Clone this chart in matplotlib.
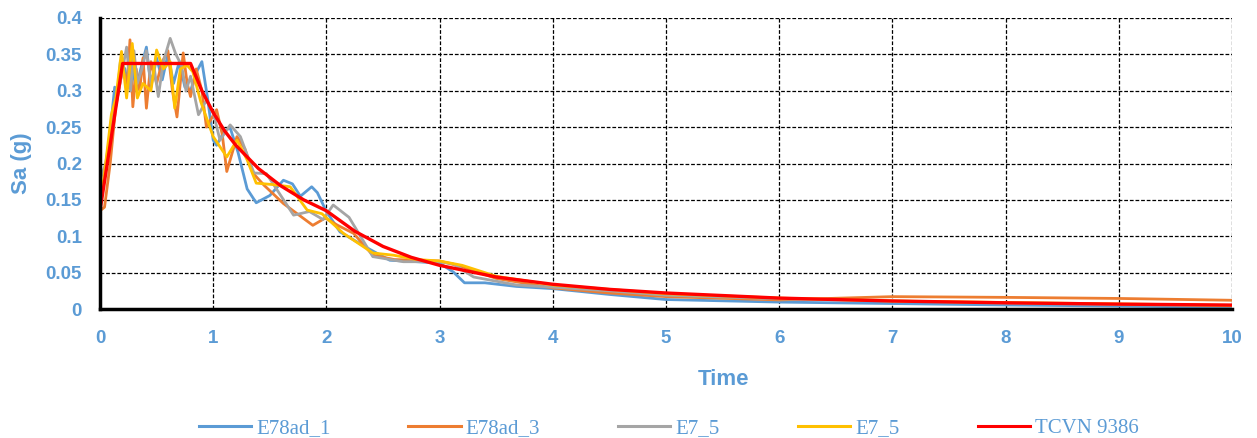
import numpy as np
import matplotlib
matplotlib.use("Agg")
import matplotlib.pyplot as plt

# Spectra (period T in s, Sa in g)
t_e1 = [0, 0.05, 0.1, 0.13, 0.15, 0.18, 0.22, 0.25, 0.28, 0.32,
        0.36, 0.41, 0.45, 0.5, 0.55, 0.6, 0.65, 0.7, 0.75, 0.8,
        0.85, 0.9, 0.95, 1.0, 1.03, 1.1, 1.15, 1.22, 1.3, 1.38,
        1.5, 1.62, 1.7, 1.77, 1.87, 1.92, 2.0, 2.12, 2.36, 2.56,
        2.8, 3.0, 3.12, 3.22, 3.4, 3.68, 4.0, 4.5, 5.0, 6.0,
        7.0, 8.0, 9.0, 10.0]
sa_e1 = [0.14, 0.19, 0.26, 0.305, 0.29, 0.34, 0.33, 0.305, 0.34, 0.30,
         0.33, 0.36, 0.305, 0.345, 0.315, 0.35, 0.31, 0.34, 0.305, 0.30,
         0.325, 0.34, 0.29, 0.232, 0.225, 0.245, 0.249, 0.215, 0.165, 0.146,
         0.156, 0.177, 0.172, 0.155, 0.168, 0.16, 0.134, 0.106, 0.084, 0.067,
         0.065, 0.063, 0.051, 0.036, 0.036, 0.031, 0.028, 0.02, 0.013, 0.0095,
         0.0075, 0.0055, 0.004, 0.0023]

t_e3 = [0, 0.04, 0.09, 0.14, 0.2, 0.24, 0.265, 0.29, 0.32, 0.35,
        0.38, 0.41, 0.45, 0.5, 0.55, 0.6, 0.64, 0.68, 0.735, 0.77,
        0.8, 0.85, 0.9, 0.94, 1.03, 1.08, 1.12, 1.21, 1.28, 1.35,
        1.45, 1.62, 1.75, 1.88, 1.99, 2.1, 2.24, 2.41, 2.6, 2.8,
        3.0, 3.2, 3.5, 4.0, 4.5, 5.0, 6.0, 7.0, 8.0, 9.0,
        10.0]
sa_e3 = [0.135, 0.14, 0.2, 0.28, 0.33, 0.31, 0.37, 0.278, 0.33, 0.3,
         0.345, 0.276, 0.34, 0.31, 0.34, 0.355, 0.3, 0.264, 0.352, 0.31,
         0.292, 0.33, 0.3, 0.25, 0.274, 0.24, 0.189, 0.237, 0.22, 0.187,
         0.17, 0.145, 0.13, 0.115, 0.125, 0.115, 0.104, 0.074, 0.068, 0.067,
         0.066, 0.058, 0.042, 0.029, 0.022, 0.017, 0.0125, 0.017, 0.016, 0.0145,
         0.012]

t_e75a = [0, 0.05, 0.1, 0.15, 0.2, 0.235, 0.27, 0.3, 0.33, 0.37,
          0.41, 0.45, 0.48, 0.515, 0.56, 0.62, 0.67, 0.72, 0.76, 0.8,
          0.87, 0.94, 1.0, 1.06, 1.15, 1.24, 1.36, 1.47, 1.58, 1.71,
          1.85, 1.97, 2.06, 2.2, 2.41, 2.68, 3.0, 3.12, 3.3, 3.68,
          4.0, 4.5, 5.0, 6.0, 7.0, 8.0, 9.0, 10.0]
sa_e75a = [0.177, 0.2, 0.25, 0.287, 0.33, 0.36, 0.30, 0.355, 0.31, 0.33,
           0.355, 0.31, 0.33, 0.292, 0.34, 0.372, 0.35, 0.335, 0.3, 0.32,
           0.267, 0.287, 0.27, 0.232, 0.253, 0.237, 0.187, 0.186, 0.16, 0.129,
           0.134, 0.123, 0.143, 0.126, 0.072, 0.065, 0.065, 0.062, 0.044, 0.033,
           0.03, 0.025, 0.019, 0.014, 0.011, 0.008, 0.006, 0.004]

t_e75b = [0, 0.05, 0.1, 0.14, 0.19, 0.235, 0.285, 0.33, 0.38, 0.45,
          0.5, 0.56, 0.62, 0.66, 0.71, 0.77, 0.82, 0.89, 1.0, 1.12,
          1.21, 1.3, 1.38, 1.53, 1.68, 1.83, 1.96, 2.15, 2.41, 2.59,
          2.8, 3.0, 3.2, 3.5, 4.0, 4.5, 5.0, 6.0, 7.0, 8.0,
          9.0, 10.0]
sa_e75b = [0.14, 0.2, 0.267, 0.29, 0.354, 0.29, 0.365, 0.29, 0.31, 0.3,
           0.356, 0.33, 0.34, 0.276, 0.33, 0.335, 0.326, 0.285, 0.237, 0.209,
           0.232, 0.205, 0.173, 0.171, 0.168, 0.136, 0.131, 0.104, 0.077, 0.074,
           0.068, 0.066, 0.06, 0.045, 0.033, 0.027, 0.021, 0.015, 0.011, 0.009,
           0.007, 0.005]

t_tcvn = [0, 0.2, 0.8, 0.9, 1.0, 1.1, 1.2, 1.4, 1.6, 1.8,
          2.0, 2.25, 2.5, 2.75, 3.0, 3.5, 4.0, 4.5, 5.0, 6.0,
          7.0, 8.0, 9.0, 10.0]
sa_tcvn = [0.135, 0.3375, 0.3375, 0.30, 0.27, 0.245, 0.225, 0.193, 0.169, 0.15,
           0.135, 0.107, 0.086, 0.071, 0.06, 0.044, 0.034, 0.027, 0.022, 0.015,
           0.011, 0.0085, 0.0067, 0.0054]

series = [
    (t_e1, sa_e1, 'E78ad_1', '#5B9BD5'),
    (t_e3, sa_e3, 'E78ad_3', '#ED7D31'),
    (t_e75a, sa_e75a, 'E7_5', '#A5A5A5'),
    (t_e75b, sa_e75b, 'E7_5', '#FFC000'),
    (t_tcvn, sa_tcvn, 'TCVN 9386', '#FF0000'),
]

label_blue = '#5B9BD5'

fig = plt.figure(figsize=(12.57, 4.38), dpi=100)
ax = fig.add_axes([100 / 1257, 1 - 309 / 438, 1132 / 1257, 291 / 438])

for t, sa, name, color in series:
    lw = 2.4 if name == 'TCVN 9386' else 2.0
    ax.plot(t, sa, color=color, lw=lw, label=name, solid_joinstyle='round')

ax.set_xlim(0, 10)
ax.set_ylim(0, 0.4)
ax.set_xticks(np.arange(0, 11, 1))
ax.set_yticks(np.arange(0, 0.401, 0.05))
ax.set_xticklabels([str(i) for i in range(11)])
ax.set_yticklabels(['0', '0.05', '0.1', '0.15', '0.2', '0.25', '0.3', '0.35', '0.4'])

ax.grid(True, color='black', linestyle=(0, (3, 1.5)), lw=0.9)
ax.set_axisbelow(True)
for side in ['top', 'right']:
    ax.spines[side].set_visible(False)
for side in ['left', 'bottom']:
    ax.spines[side].set_linewidth(2.5)
    ax.spines[side].set_color('black')

ax.tick_params(length=0, pad=13, labelcolor=label_blue)
ax.tick_params(axis='x', pad=15)
for lab in ax.get_xticklabels() + ax.get_yticklabels():
    lab.set_fontfamily('Liberation Sans')
    lab.set_fontweight('bold')
    lab.set_fontsize(13.5)

ax.set_ylabel('Sa (g)', color=label_blue, fontsize=16, fontweight='bold',
              fontfamily='Liberation Sans', labelpad=10)
ax.set_xlabel('Time', color=label_blue, fontsize=16, fontweight='bold',
              fontfamily='Liberation Sans')
ax.xaxis.set_label_coords((724 - 100) / 1132, -0.205)

leg = fig.legend(loc='center', bbox_to_anchor=(0.532, 0.022), ncol=5,
                 frameon=False, handlelength=2.5, handletextpad=0.25,
                 columnspacing=3.75,
                 prop={'family': 'Liberation Serif', 'size': 15})
for txt in leg.get_texts():
    txt.set_color(label_blue)
for line in leg.get_lines():
    line.set_linewidth(2.2)

fig.savefig('out.png', dpi=100)
